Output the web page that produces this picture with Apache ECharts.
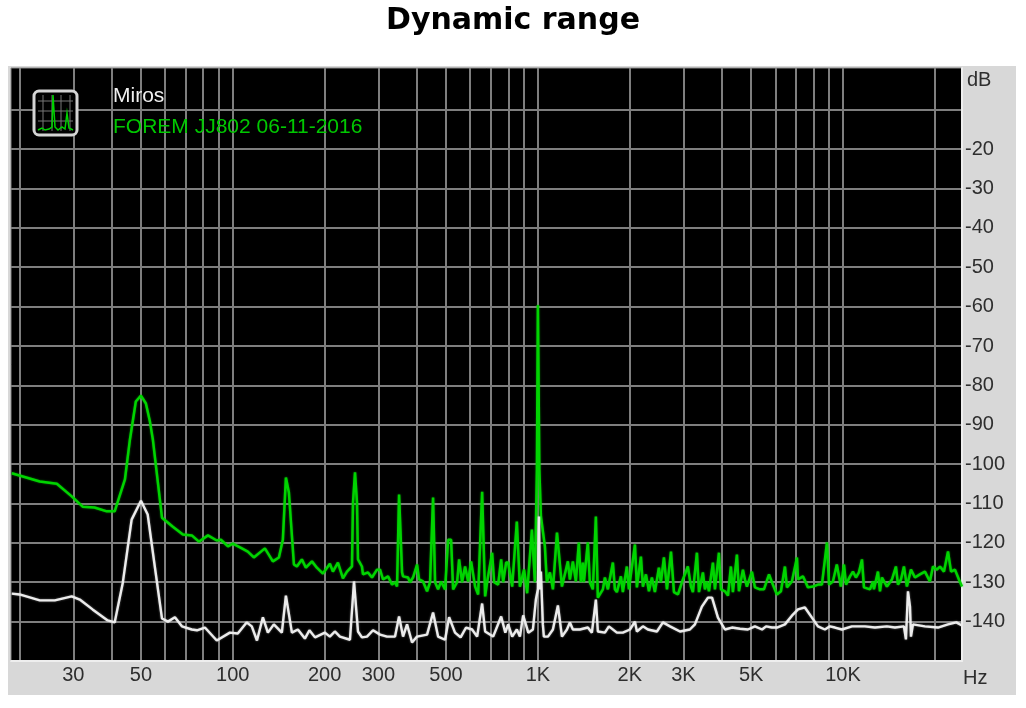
<!DOCTYPE html>
<html><head><meta charset="utf-8">
<style>html,body{margin:0;padding:0;background:#fff}#c{width:1026px;height:708px}</style>
<script src="https://cdn.jsdelivr.net/npm/echarts@6/dist/echarts.min.js"></script>
</head><body><div id="c"></div>
<script>
const chartTitle = 'Dynamic range';
const seriesNames = ['Miros', 'FOREM JJ802 06-11-2016'];
const gridFreqs = [20,30,40,50,60,70,80,90,100,200,300,400,500,600,700,800,900,1000,2000,3000,4000,5000,6000,7000,8000,9000,10000,20000];
const freqLabels = [30,50,100,200,300,500,1000,2000,3000,5000,10000];
const dbGrid = [-10,-20,-30,-40,-50,-60,-70,-80,-90,-100,-110,-120,-130,-140];
const dbLabels = [-20,-30,-40,-50,-60,-70,-80,-90,-100,-110,-120,-130,-140];

const greenHz = [18.86,23.3,26.5,29.65,32.2,35.2,38.65,41,44.3,46,48.1,50,51.9,53.5,54.7,58.6,63.6,68.6,73.4,77.4,82.9,88.6,91.4,96.4,100,107.1,112,117.2,127.4,135.3,141.6,145.9,149.3,152.7,158.6,162.2,168.4,173.6,181.7,188.6,197.4,208.1,212.9,221.1,224.4,229.6,236.7,245.8,247.7,251.5,255.3,257.2,265,267.1,277.4,285.9,296.9,303.8,310.7,322.7,332.6,340.2,345.4,350.7,358.7,361.4,375.3,381,389.7,401.7,407.8,420.3,433.2,443.1,453.3,460.2,470.8,481.6,496.3,507.7,519.4,527.3,543.5,551.7,564.3,577.2,590.5,604,622.6,637,656.4,671.5,681.6,707.9,718.7,740.8,757.8,769.3,786.9,798.9,823.5,853,873,901,922,955.7,977.6,992.5,1000,1011,1023,1054,1070,1095,1120,1155,1199,1254,1273,1302,1332,1362,1383,1404,1415,1458,1480,1514,1549,1572,1633,1658,1696,1761,1788,1815,1871,1899,1957,1987,2080,2111,2176,2209,2260,2312,2364,2418,2492,2530,2589,2649,2730,2792,2878,2987,3101,3175,3222,3321,3372,3474,3527,3581,3636,3747,3804,3921,3981,4103,4198,4291,4357,4491,4559,4699,4771,4843,5029,5144,5340,5507,5722,5848,6074,6260,6452,6550,6801,7065,7120,7390,7676,7970,8278,8530,8860,9000,9269,9545,9840,10076,10230,10543,10780,11025,11280,11540,11713,12260,12537,12632,13020,13220,13420,13930,14470,14910,15140,15490,15840,16200,16700,17215,17870,18560,19270,19720,20320,20790,21430,22090,22600,23280,23990,24550];
const greenDb = [-102.3,-104.4,-105,-108.2,-110.8,-111,-112,-112,-103.9,-93.8,-84.1,-82.6,-84.6,-89.2,-93.8,-113.6,-115.9,-117.9,-118.1,-119.7,-118.1,-119.4,-119.2,-120.9,-120.2,-121.4,-122.2,-123.7,-121.4,-124.7,-123.7,-119.2,-103.4,-107.2,-125.5,-126,-124.2,-126.3,-124.7,-126.3,-127.8,-125.3,-127.3,-125,-125,-129,-127.3,-126,-109.8,-102.1,-109.8,-124.2,-126,-128,-127.5,-128.8,-126.8,-126.8,-129.3,-128.5,-130.6,-130,-131.1,-107.7,-127.5,-128.5,-128.8,-130,-128.8,-125.5,-129.3,-129.8,-132.3,-130,-108.5,-130,-131.8,-129.8,-131.8,-119.2,-119.2,-131.8,-130,-124.2,-130,-126,-129.8,-124.7,-131.1,-133.1,-107,-133.6,-130,-122.5,-130,-130.6,-124.2,-130,-125,-125,-131.1,-114.6,-131.1,-126.8,-132.8,-116.6,-130,-101.4,-59.6,-101.4,-113.3,-120.9,-130,-127.5,-131.8,-117.4,-131.1,-124.7,-129.3,-124.7,-129.8,-119.9,-130,-125,-130,-119.9,-130,-131.8,-113.3,-133.9,-131.8,-128.8,-131.8,-125,-131.8,-132.5,-128.5,-132.5,-126,-131.8,-120.4,-131.3,-123.5,-131.1,-128,-132.3,-128.8,-132.5,-126.3,-130,-123.7,-131.8,-122.2,-132.5,-133.1,-129.3,-126,-131.1,-132.5,-122.5,-132.5,-127.5,-131.8,-129.8,-132.3,-125,-131.8,-122.5,-131.8,-132.3,-133.4,-126,-132.5,-123,-132.3,-126.8,-129.3,-131.1,-127.3,-131.3,-131.8,-131.8,-128,-130,-133.1,-132.3,-126,-131.3,-129.8,-123.7,-129.3,-128.5,-131.3,-131.1,-130.6,-130.6,-119.9,-130.6,-129.8,-125.5,-131.1,-125.5,-130.6,-128.5,-127.3,-128.8,-127.5,-124.2,-131.3,-131.8,-129.8,-131.8,-127.3,-132.3,-128.8,-131.1,-129.3,-126,-130.6,-129.3,-126,-131.1,-126.8,-128.8,-128,-127.3,-129.8,-126,-126.8,-126,-127.3,-122.2,-127.3,-126.8,-129.3,-131.1];

const whiteHz = [18.86,20,23.3,26.1,29.65,31.5,34.7,38.9,41,43.6,46.6,50,52.6,55.5,58.6,61.3,64.6,68.1,73.4,76.3,81,88.6,97.8,103.8,111,115.4,120,125.5,130.3,136.3,144.8,149.3,156.2,163.4,172.3,178.3,186,200.4,208,216,224.4,242.1,249.6,257.2,265,275.3,288.1,303.8,320.2,340.2,350.7,361.4,372.5,386.8,401.7,433.2,453.3,470.8,496.3,511.6,535,558,581.5,608.6,632.2,656.4,671.5,713.3,757.8,782,798.9,823.5,853,873,894.8,930,963,985,1000,1008,1015,1023,1038,1046,1079,1120,1163,1199,1245,1273,1302,1373,1458,1503,1549,1572,1658,1709,1815,1899,2003,2080,2111,2209,2294,2455,2569,2710,2923,3148,3271,3447,3609,3722,3892,4103,4325,4595,4878,5144,5429,5596,5848,6074,6452,6853,7120,7502,7910,8278,8725,9060,9410,9920,10700,11800,12730,13930,14800,15840,16080,16330,16580,16700,16956,18560,20480,22090,23520,24550];
const whiteDb = [-132.9,-133.1,-134.6,-134.6,-133.6,-134.4,-136.9,-139.7,-140.2,-130.1,-114.1,-109.3,-112.8,-126,-139.2,-140,-138.9,-141.2,-142,-142.2,-141.5,-144.8,-142.8,-143,-140.2,-141.2,-144.8,-138.9,-142.8,-140.7,-142.8,-133.4,-142.8,-142,-144.3,-142.2,-144,-142.8,-143.8,-142.5,-143.8,-144.6,-129.8,-142.5,-144,-143.8,-142.2,-143.3,-143.8,-143.8,-138.7,-143.8,-140.7,-145.3,-143.8,-143.3,-137.7,-143.8,-144.6,-138.9,-142.8,-144,-141.5,-142,-143.8,-135.4,-142.5,-143.8,-138.7,-142.8,-140.7,-143.8,-142,-143.8,-138.4,-142.8,-142,-134.4,-131.8,-113.3,-131.8,-127.3,-140.7,-143.8,-143.8,-142,-135.9,-143.8,-142,-140.2,-142,-142,-141.5,-142.8,-134.4,-142.5,-142.8,-141.2,-142.8,-142.8,-142,-140,-142.5,-141.2,-142,-142.5,-140.2,-141.2,-142.5,-142,-140.7,-136.2,-133.9,-133.9,-139,-142,-141.5,-141.8,-142,-141.2,-142,-141.2,-141.5,-141.5,-140.7,-138.2,-136.9,-136.4,-139,-141.2,-142,-141.2,-141.5,-142,-141.2,-141.2,-141.5,-141.2,-141.5,-141.2,-144.5,-132.3,-136.2,-143.8,-140.7,-141.2,-141.5,-140.7,-140.2,-141];

const pair = (a, b) => a.map((v, i) => [v, b[i]]);
const ink = '#2e2e2e', gridCol = '#7e7e7e';
const fmtHz = v => v >= 1000 ? (v / 1000) + 'K' : String(v);

const chart = echarts.init(document.getElementById('c'), null, {renderer: 'canvas'});
chart.setOption({
  animation: false,
  backgroundColor: '#fff',
  textStyle: {fontFamily: '"Liberation Sans", Arial, sans-serif'},
  title: {text: chartTitle, left: 'center', top: 6, padding: 0,
    textStyle: {fontFamily: '"DejaVu Sans", sans-serif', fontWeight: 'bold', fontSize: 30, color: '#000'}},
  grid: {left: 11, right: 64, top: 68, bottom: 47, show: true, backgroundColor: '#000', borderColor: '#888', borderWidth: 1},
  legend: {
    data: [{name: seriesNames[0], textStyle: {color: '#f0f0f0'}}, {name: seriesNames[1], textStyle: {color: '#00c800'}}],
    orient: 'vertical', left: 103, top: 81, itemWidth: 0, itemHeight: 0, itemGap: 10, icon: 'none',
    textStyle: {fontSize: 21, fontFamily: '"Liberation Sans", Arial, sans-serif'}, selectedMode: false
  },
  xAxis: {
    type: 'log', logBase: 10, min: 18.75, max: 24550,
    name: 'Hz', nameLocation: 'end', nameGap: 0,
    nameTextStyle: {color: ink, fontSize: 20, padding: [7, 0, 0, 1], align: 'left', verticalAlign: 'top'},
    axisLine: {show: true, onZero: false, lineStyle: {color: '#eee', width: 2}},
    axisTick: {show: false, customValues: gridFreqs},
    axisLabel: {customValues: freqLabels, color: ink, fontSize: 20, margin: 4, formatter: fmtHz, hideOverlap: false},
    splitLine: {show: true, lineStyle: {color: gridCol, width: 2}},
    minorSplitLine: {show: false}
  },
  yAxis: {
    type: 'value', position: 'right', min: -150, max: 0.6, interval: 10,
    name: 'dB', nameLocation: 'end', nameGap: 0,
    nameTextStyle: {color: ink, fontSize: 20, padding: [0, 0, -22, 5], align: 'left'},
    axisLine: {show: true, onZero: false, lineStyle: {color: '#eee', width: 2}},
    axisTick: {show: false, customValues: dbGrid},
    axisLabel: {customValues: dbLabels, color: ink, fontSize: 20, margin: 3, padding: [0, 0, 5, 0], formatter: v => String(v)},
    splitLine: {show: true, lineStyle: {color: gridCol, width: 2}}
  },
  series: [
    {name: seriesNames[1], type: 'line', data: pair(greenHz, greenDb), symbol: 'none', clip: true, z: 3,
      lineStyle: {color: '#00d400', width: 2.5, shadowColor: 'rgba(0,212,0,0.6)', shadowBlur: 2}, itemStyle: {color: '#00d400'}},
    {name: seriesNames[0], type: 'line', data: pair(whiteHz, whiteDb), symbol: 'none', clip: true, z: 4,
      lineStyle: {color: '#ececec', width: 2.4, shadowColor: 'rgba(230,230,230,0.5)', shadowBlur: 2}, itemStyle: {color: '#ececec'}}
  ],
  graphic: [
    {type: 'rect', silent: true, z: -10, shape: {x: 8, y: 66, width: 1008, height: 629}, style: {fill: '#d8d8d8'}},
    {type: 'group', silent: true, z: 50, children: [
      {type: 'rect', z: 50, shape: {x: 34, y: 91, width: 43, height: 44, r: 5}, style: {fill: '#000', stroke: '#d4d4d4', lineWidth: 3}},
      ...[43, 52, 61, 70].map(x => ({type: 'line', z: 51, shape: {x1: x, y1: 95, x2: x, y2: 131}, style: {stroke: '#777', lineWidth: 1}})),
      ...[101, 111, 121].map(y => ({type: 'line', z: 51, shape: {x1: 38, y1: y, x2: 73, y2: y}, style: {stroke: '#777', lineWidth: 1}})),
      {type: 'polyline', z: 52, shape: {points: [[38,130],[42,128],[45,130],[49,129],[52,127],[53,95],[55,127],[58,130],[62,127],[65,129],[67,113],[69,128],[73,130]]}, style: {stroke: '#00d000', lineWidth: 1.5, fill: 'none'}}
    ]}
  ]
});
</script></body></html>
